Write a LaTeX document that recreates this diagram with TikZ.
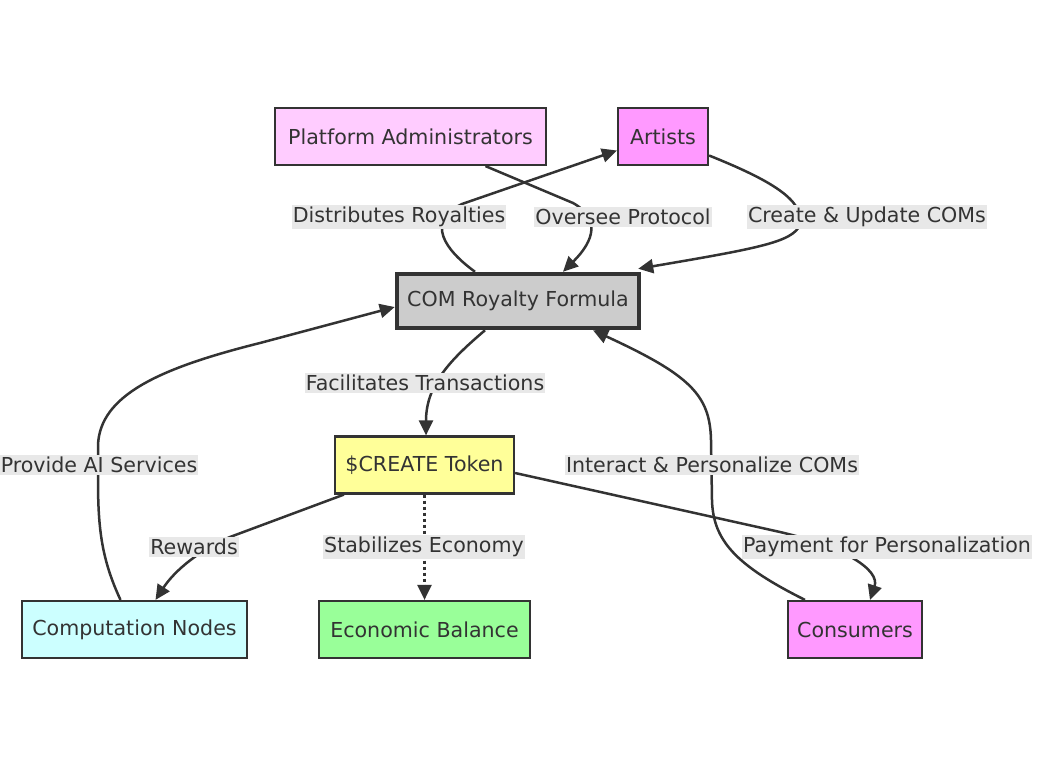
\documentclass[tikz,border=0pt]{standalone}
\usepackage{fontspec}
\setmainfont{DejaVu Sans}
\usepackage{tikz}
\usetikzlibrary{arrows.meta}
\definecolor{mline}{HTML}{333333}
\definecolor{adminpink}{HTML}{FFCCFF}
\definecolor{artistpink}{HTML}{FF99FF}
\definecolor{comgray}{HTML}{CCCCCC}
\definecolor{tokenyellow}{HTML}{FFFF99}
\definecolor{nodecyan}{HTML}{CCFFFF}
\definecolor{balgreen}{HTML}{99FF99}
\definecolor{lblbg}{HTML}{E8E8E8}
\tikzset{every node/.style={font=\fontsize{20.6}{25}\selectfont, text=mline},
	box/.style={draw=mline, line width=2.2pt, minimum height=57pt, inner sep=0pt},
	lbl/.style={fill=lblbg, inner xsep=1pt, inner ysep=2pt},
	flow/.style={draw=mline, line width=2.5pt, -{Triangle[length=15pt,width=14pt]}}}

\begin{document}
\begin{tikzpicture}[x=1pt, y=-1pt]
\useasboundingbox (0,0) rectangle (1047,760);
\node [box, fill=adminpink, minimum width=271pt] (admin) at (410.5,136.5) {Platform Administrators};
\node [box, fill=artistpink, minimum width=90pt] (art) at (663,136.5) {Artists};
\node [box, fill=comgray, line width=4.5pt, minimum width=242pt, minimum height=54pt] (com) at (518,301) {COM Royalty Formula};
\node [box, fill=tokenyellow, minimum width=179pt] (tok) at (424.5,465) {\$CREATE Token};
\node [box, fill=nodecyan, minimum width=225pt] (comp) at (134.5,629.5) {Computation Nodes};
\node [box, fill=balgreen, minimum width=211pt] (bal) at (424.5,629.5) {Economic Balance};
\node [box, fill=artistpink, minimum width=134pt] (cons) at (855,629.5) {Consumers};
% edges
\draw [flow] ([xshift=-43pt]com.north) .. controls (445,250) and (425,222) .. (462,204) -- ([yshift=-14pt]art.west);
\draw [flow] ([xshift=75pt]admin.south) -- (573,203) .. controls (600,218) and (595,240) .. ([xshift=45pt]com.north);
\draw [flow] ([yshift=-19pt]art.east) .. controls (770,180) and (805,200) .. (800,225) .. controls (792,242) and (760,248) .. ([xshift=-3pt,yshift=3pt]com.north east);
\draw [flow] ([xshift=-33pt]com.south) .. controls (450,360) and (426,385) .. ([xshift=1.5pt]tok.north);
\draw [flow] ([xshift=-14pt]comp.north) .. controls (102,560) and (98,530) .. (98,480) -- (98,445) .. controls (100,395) and (160,368) .. (260,343) -- ([yshift=-6pt]com.west);
\draw [flow] ([xshift=10pt]tok.south west) -- (230,537) .. controls (200,550) and (175,570) .. ([xshift=21pt]comp.north);
\draw [flow, dash pattern=on 3pt off 3pt] (tok.south) -- (bal.north);
\draw [flow] ([yshift=-8pt]tok.east) -- (780,532) .. controls (845,547) and (880,570) .. ([xshift=15pt]cons.north);
\draw [flow] ([xshift=-50pt]cons.north) .. controls (735,565) and (713,540) .. (712,500) -- (711,440) .. controls (710,395) and (690,375) .. ([xshift=75pt]com.south);
% labels
\node [lbl] (l1) at (399,217) {Distributes Royalties};
\node [lbl] (l2) at (623,217) {Oversee Protocol};
\node [lbl] (l3) at (867,217) {Create \& Update COMs};
\node [lbl] (l4) at (425,383) {Facilitates Transactions};
\node [lbl] (l5) at (99,465) {Provide AI Services};
\node [lbl] (l6) at (712,465) {Interact \& Personalize COMs};
\node [lbl] (l7) at (194,547) {Rewards};
\node [lbl] (l8) at (424,547) {Stabilizes Economy};
\node [lbl] (l9) at (887,547) {Payment for Personalization};
\end{tikzpicture}
\end{document}
